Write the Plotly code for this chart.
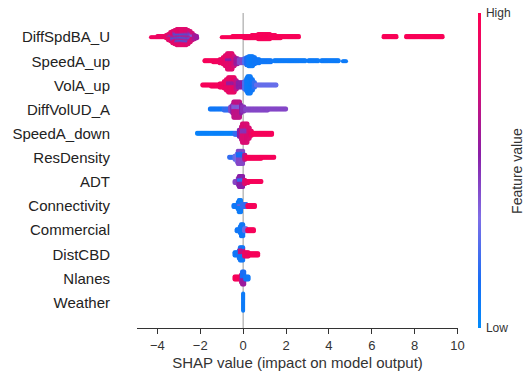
import plotly.graph_objects as go

# Feature names, top to bottom
features = ["DiffSpdBA_U", "SpeedA_up", "VolA_up", "DiffVolUD_A", "SpeedA_down",
            "ResDensity", "ADT", "Connectivity", "Commercial", "DistCBD", "Nlanes", "Weather"]

x_ticks = [-4, -2, 0, 2, 4, 6, 8, 10]

# Density profiles:
# (SHAP start, SHAP end, samples stacked per SHAP step, feature value 0=low..1=high)
DiffSpdBA_U = [
    (-4.30, -4.00, 1, 0.92), (-4.00, -3.60, 2, 0.90), (-3.60, -3.50, 4, 0.88),
    (-3.50, -3.40, 6, 0.85), (-3.50, -3.40, 1, 0.50),
    (-3.40, -3.30, 8, 0.85), (-3.40, -3.30, 2, 0.50),
    (-3.30, -3.20, 9, 0.84), (-3.30, -3.20, 3, 0.50), (-3.30, -3.20, 1, 0.12),
    (-3.20, -3.10, 9, 0.84), (-3.20, -3.10, 4, 0.50), (-3.20, -3.10, 2, 0.12),
    (-3.10, -2.60, 10, 0.84), (-3.10, -2.60, 4, 0.50), (-3.10, -2.60, 3, 0.12),
    (-2.60, -2.50, 8, 0.80), (-2.60, -2.50, 4, 0.50), (-2.60, -2.50, 3, 0.12),
    (-2.50, -2.40, 6, 0.80), (-2.50, -2.40, 4, 0.50), (-2.50, -2.40, 2, 0.20),
    (-2.40, -2.30, 5, 0.75), (-2.40, -2.30, 3, 0.40),
    (-2.30, -2.20, 5, 0.65), (-2.20, -2.10, 3, 0.60),
    (-1.00, -0.50, 1, 0.97), (-0.50, 0.05, 2, 0.97), (0.05, 0.40, 3, 0.95),
    (0.40, 0.70, 4, 0.95), (0.70, 1.30, 6, 0.95), (1.30, 1.55, 4, 0.95),
    (1.55, 1.80, 3, 0.96), (1.80, 2.65, 2, 0.96),
    (6.55, 7.20, 2, 0.97), (7.60, 9.35, 2, 0.97),
]
SpeedA_up = [
    (-1.80, -1.40, 2, 0.95), (-1.40, -1.10, 3, 0.93), (-1.10, -0.95, 5, 0.90),
    (-0.95, -0.85, 8, 0.88), (-0.85, -0.75, 12, 0.86),
    (-0.75, -0.45, 14, 0.84), (-0.75, -0.45, 3, 0.55),
    (-0.45, -0.35, 11, 0.75), (-0.35, -0.20, 7, 0.60), (-0.20, 0.05, 5, 0.45),
    (0.05, 0.15, 6, 0.25), (0.15, 0.25, 9, 0.15), (0.25, 0.50, 11, 0.08),
    (0.50, 0.60, 8, 0.10), (0.60, 0.80, 5, 0.10), (0.80, 1.35, 3, 0.10),
    (1.45, 2.95, 2, 0.08), (3.05, 3.55, 2, 0.08), (3.65, 4.50, 2, 0.08),
    (4.65, 4.85, 1, 0.08),
]
VolA_up = [
    (-1.90, -1.50, 2, 0.95), (-1.50, -1.10, 3, 0.94), (-1.10, -0.90, 5, 0.92),
    (-0.90, -0.80, 8, 0.90), (-0.80, -0.70, 12, 0.88),
    (-0.70, -0.35, 12, 0.88), (-0.70, -0.35, 4, 0.60),
    (-0.35, -0.25, 10, 0.70), (-0.25, 0.05, 6, 0.55), (0.05, 0.15, 9, 0.25),
    (0.15, 0.20, 14, 0.10), (0.20, 0.40, 18, 0.08), (0.40, 0.50, 12, 0.10),
    (0.50, 0.60, 6, 0.20), (0.60, 1.60, 2, 0.30),
]
DiffVolUD_A = [
    (-1.55, -0.90, 2, 0.10), (-0.90, -0.60, 3, 0.20), (-0.60, -0.50, 6, 0.45),
    (-0.50, -0.45, 10, 0.55),
    (-0.45, -0.10, 12, 0.70), (-0.45, -0.10, 5, 0.40),
    (-0.10, -0.05, 10, 0.55), (-0.05, 0.10, 6, 0.50), (0.10, 1.20, 3, 0.45),
    (1.20, 2.05, 2, 0.45),
]
SpeedA_down = [
    (-2.15, -0.40, 2, 0.05), (-0.40, -0.20, 3, 0.20), (-0.20, -0.10, 8, 0.55),
    (-0.10, -0.05, 14, 0.70),
    (-0.05, 0.25, 15, 0.80), (-0.05, 0.25, 5, 0.50),
    (0.25, 0.35, 12, 0.80), (0.35, 0.45, 6, 0.88), (0.45, 1.40, 3, 0.95),
]
ResDensity = [
    (-0.65, -0.40, 2, 0.20), (-0.40, -0.30, 5, 0.30), (-0.30, -0.25, 9, 0.35),
    (-0.25, 0.05, 8, 0.45), (-0.25, 0.05, 6, 0.15),
    (0.05, 0.15, 6, 0.70), (0.15, 0.90, 3, 0.95), (0.90, 1.50, 2, 0.95),
]
ADT = [
    (-0.38, -0.25, 3, 0.45), (-0.25, -0.20, 8, 0.50),
    (-0.20, 0.05, 8, 0.55), (-0.20, 0.05, 4, 0.20),
    (0.05, 0.15, 5, 0.80), (0.15, 0.30, 3, 0.88), (0.30, 0.88, 2, 0.95),
]
Connectivity = [
    (-0.45, -0.25, 3, 0.10), (-0.25, -0.20, 8, 0.10),
    (-0.20, -0.05, 11, 0.08), (-0.20, -0.05, 2, 0.40),
    (-0.05, 0.20, 4, 0.20), (0.20, 0.60, 3, 0.95),
]
Commercial = [
    (-0.30, -0.15, 3, 0.10), (-0.15, -0.10, 8, 0.10), (-0.10, 0.05, 13, 0.10),
    (0.05, 0.20, 4, 0.30), (0.20, 0.55, 3, 0.95),
]
DistCBD = [
    (-0.40, -0.20, 4, 0.10), (-0.20, -0.15, 9, 0.12),
    (-0.15, 0.05, 8, 0.10), (-0.15, 0.05, 6, 0.70),
    (0.05, 0.30, 5, 0.90), (0.30, 0.75, 3, 0.95),
]
Nlanes = [
    (-0.40, -0.10, 4, 0.95), (-0.10, -0.05, 9, 0.70),
    (-0.05, 0.10, 7, 0.60), (-0.05, 0.10, 7, 0.15),
    (0.10, 0.30, 4, 0.10),
]
Weather = [
    (0.00, 0.00, 18, 0.08),
]

profiles = [DiffSpdBA_U, SpeedA_up, VolA_up, DiffVolUD_A, SpeedA_down, ResDensity,
            ADT, Connectivity, Commercial, DistCBD, Nlanes, Weather]

# Beeswarm layout: expand each profile into stacked points
DX = 0.05
DY = 0.042
xs, ys, cs = [], [], []
n_feat = len(features)
for row, prof in enumerate(profiles):
    ypos = n_feat - 1 - row
    buckets = {}
    for (a, b, n, c) in prof:
        ia, ib = int(round(a / DX)), int(round(b / DX))
        for i in range(ia, max(ib, ia + 1)):
            buckets.setdefault(i, []).append([c] * n)
    for i in sorted(buckets):
        groups = buckets[i]
        order = []
        while any(groups):
            for g in groups:
                if g:
                    order.append(g.pop())
        for j, c in enumerate(order):
            off = ((j + 1) // 2) * (1 if j % 2 else -1)
            xs.append(i * DX)
            ys.append(ypos + off * DY)
            cs.append(c)

colorscale = [
    [0.0, "#008bfb"], [0.15, "#1a6ef5"], [0.35, "#7f6ee6"],
    [0.55, "#8a1fa8"], [0.75, "#d0107a"], [1.0, "#ff0052"],
]

FONT = "Liberation Sans, Arial, sans-serif"

fig = go.Figure()
fig.add_trace(go.Scatter(
    x=xs, y=ys, mode="markers", hoverinfo="skip",
    marker=dict(
        size=4, color=cs, colorscale=colorscale, cmin=0, cmax=1,
        line=dict(width=0), opacity=1,
        colorbar=dict(
            thickness=3, len=1, lenmode="fraction", y=0.5, yanchor="middle",
            x=1.062, xanchor="left", xpad=0, ypad=0, outlinewidth=0,
            tickvals=[0, 1], ticktext=["Low", "High"], ticks="outside",
            ticklen=3, tickcolor="rgba(0,0,0,0)",
            tickfont=dict(family=FONT, size=12, color="#333333"),
        ),
    ),
    showlegend=False,
))

fig.add_shape(type="line", xref="x", yref="paper", x0=0, x1=0, y0=0, y1=1,
              line=dict(color="#999999", width=1), layer="below")

fig.add_annotation(text="Feature value", xref="paper", yref="paper",
                   x=1.182, y=0.5, xanchor="center", yanchor="middle",
                   textangle=-90, showarrow=False,
                   font=dict(family=FONT, size=14, color="#333333"))

fig.update_layout(
    width=529, height=371,
    margin=dict(l=137, r=71, t=13, b=43, autoexpand=False),
    plot_bgcolor="white", paper_bgcolor="white",
    font=dict(family=FONT, color="#333333"),
    xaxis=dict(
        range=[-4.95, 10.02], tickvals=x_ticks, ticks="outside", ticklen=5,
        tickcolor="#333333", showline=True, linecolor="#333333", linewidth=1,
        showgrid=False, zeroline=False, automargin=False,
        tickfont=dict(family=FONT, size=13, color="#333333"),
        title=dict(text="SHAP value (impact on model output)", standoff=5,
                   font=dict(family=FONT, size=15, color="#333333")),
    ),
    yaxis=dict(
        range=[-1.05, 12], tickvals=list(range(n_feat)),
        ticktext=features[::-1], ticks="", showline=False, showgrid=False,
        zeroline=False, ticklabelstandoff=26, automargin=False,
        tickfont=dict(family=FONT, size=15, color="#222222"),
    ),
)

fig.write_html("out.html")
